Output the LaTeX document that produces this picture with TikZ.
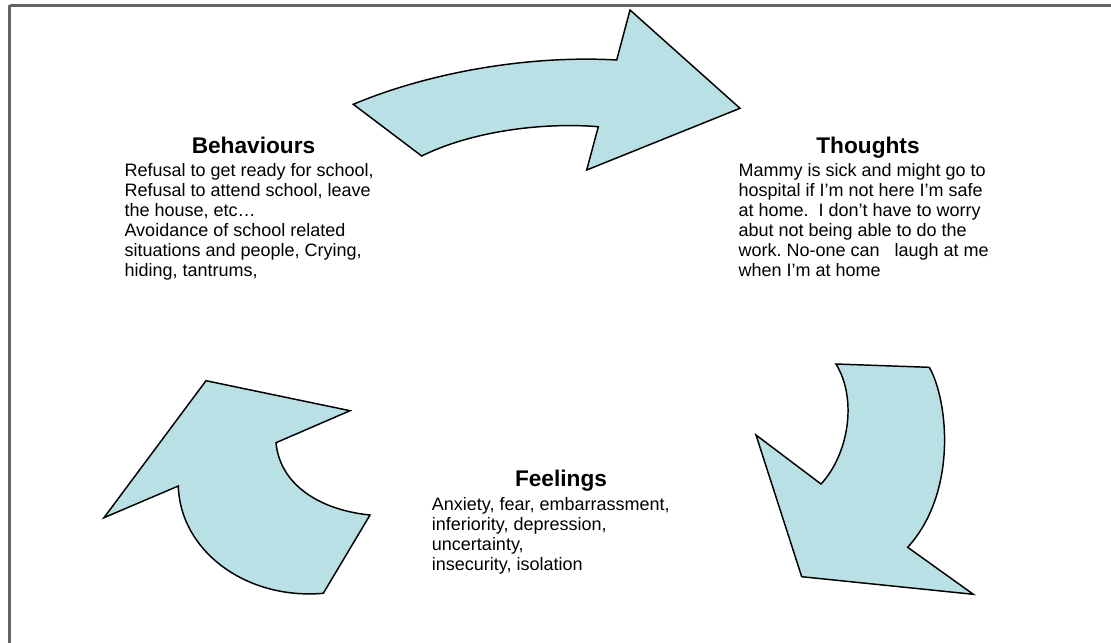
\documentclass[tikz,border=0pt]{standalone}
\usepackage{fontspec}
\setmainfont{Liberation Sans}
\frenchspacing
\definecolor{arrowfill}{RGB}{185,224,228}
\definecolor{framegray}{RGB}{100,100,100}
\begin{document}
\begin{tikzpicture}[x=0.75pt,y=-0.75pt,
  cyclearrow/.style={fill=arrowfill,draw=black,line width=1.1pt,line join=miter},
  frameline/.style={draw=framegray,line width=1.6pt},
  titletext/.style={font=\fontsize{17}{19}\selectfont\bfseries,inner sep=0pt,anchor=base},
  bodytext/.style={font=\fontsize{13.5}{15}\selectfont,inner sep=0pt,anchor=north west,align=left}]
\useasboundingbox (0,0) rectangle (1111,643);
% frame
\draw[frameline] (9.5,5.5) -- (1111,5.5);
\draw[frameline] (9.5,5) -- (9.5,643);
% top arrow (behaviours -> thoughts)
\draw[cyclearrow] (353.3,104.3) .. controls (430,72) and (530,55) .. (616.7,60)
  -- (630,10) -- (740,108.3) -- (586.7,170) -- (598.3,126.7)
  .. controls (540,122) and (470,132) .. (421.7,156) -- cycle;
% right arrow (thoughts -> feelings)
\draw[cyclearrow] (836,364) -- (929.3,367.3)
  .. controls (948,400) and (958,492) .. (907.7,547.3)
  -- (973.3,594.3) -- (801.7,576.7) -- (756,435) -- (821,484)
  .. controls (848,455) and (858,400) .. (836,364) -- cycle;
% left arrow (feelings -> behaviours)
\draw[cyclearrow] (206,380.7) -- (350,410.7) -- (276,442.7)
  .. controls (280,485) and (320,510) .. (370,515)
  -- (323.3,593.3)
  .. controls (245,600) and (180,550) .. (178.3,486)
  -- (104,517.7) -- cycle;
% texts
\node[titletext] (behtitle) at (253.5,153.3) {Behaviours};
\node[bodytext] (behbody) at (124.3,163.6) {Refusal to get ready for school,\\
Refusal to attend school, leave\\
the house, etc…\\
Avoidance of school related\\
situations and people, Crying,\\
hiding, tantrums,};
\node[titletext] (thotitle) at (868,153.3) {Thoughts};
\node[bodytext] (thobody) at (738.3,163.6) {Mammy is sick and might go to\\
hospital if I’m not here I’m safe\\
at home.\ \ I don’t have to worry\\
abut not being able to do the\\
work. No-one can\ \ \ laugh at me\\
when I’m at home};
\node[titletext] (feltitle) at (561,486.7) {Feelings};
\node[bodytext] (felbody) at (431.7,496.9) {Anxiety, fear, embarrassment,\\
inferiority, depression,\\
uncertainty,\\
insecurity, isolation};
\end{tikzpicture}
\end{document}
